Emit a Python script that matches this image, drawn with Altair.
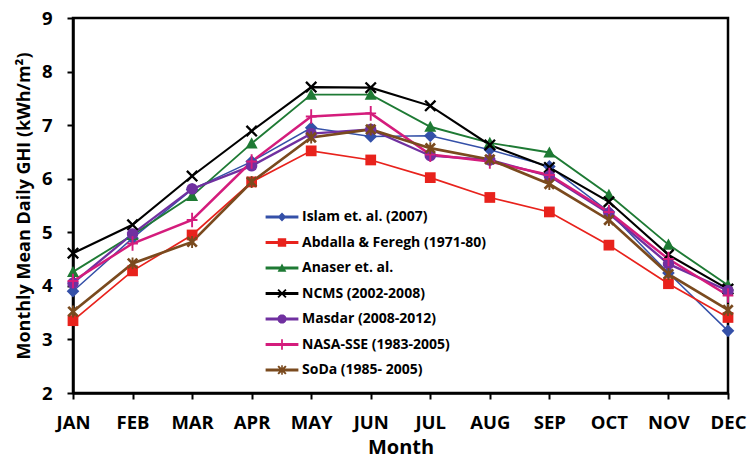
import math
import altair as alt
import pandas as pd

months = ["JAN", "FEB", "MAR", "APR", "MAY", "JUN", "JUL", "AUG", "SEP", "OCT", "NOV", "DEC"]
series = [
    "Islam et. al. (2007)",
    "Abdalla & Feregh (1971-80)",
    "Anaser et. al.",
    "NCMS (2002-2008)",
    "Masdar (2008-2012)",
    "NASA-SSE (1983-2005)",
    "SoDa (1985- 2005)",
]
islam = [3.90, 4.89, 5.80, 6.32, 6.95, 6.79, 6.80, 6.54, 6.23, 5.38, 4.24, 3.16]
abdalla = [3.35, 4.28, 4.95, 5.94, 6.52, 6.35, 6.02, 5.65, 5.38, 4.76, 4.04, 3.41]
anaser = [4.26, 4.95, 5.68, 6.66, 7.57, 7.57, 6.97, 6.67, 6.49, 5.70, 4.77, 4.01]
ncms = [4.61, 5.14, 6.05, 6.89, 7.71, 7.70, 7.36, 6.63, 6.21, 5.57, 4.58, 3.94]
masdar = [4.05, 4.97, 5.81, 6.24, 6.84, 6.92, 6.43, 6.35, 6.05, 5.35, 4.41, 3.91]
nasa = [4.09, 4.79, 5.23, 6.32, 7.16, 7.22, 6.45, 6.32, 6.07, 5.38, 4.50, 3.82]
soda = [3.52, 4.42, 4.82, 5.94, 6.77, 6.92, 6.57, 6.36, 5.90, 5.23, 4.22, 3.55]
values = [islam, abdalla, anaser, ncms, masdar, nasa, soda]

colors = ["#3450A8", "#E8221C", "#1E7A34", "#000000", "#7030A0", "#D41C7C", "#7A4A1E"]
widths = [1.5, 2.7, 2.7, 2.7, 2.7, 2.7, 2.7]

rows = []
for s, vals in zip(series, values):
    for m, v in zip(months, vals):
        rows.append({"series": s, "month": m, "ghi": v})
df = pd.DataFrame(rows)


# ---- marker geometry (unit coordinates, all polygons with the same winding) ----
def poly(pts):
    return "M" + "L".join(f"{x:.3f},{y:.3f}" for x, y in pts) + "Z"


def rect(x0, y0, x1, y1):
    return poly([(x0, y0), (x1, y0), (x1, y1), (x0, y1)])


def diamond(r):
    return poly([(0, -r), (r, 0), (0, r), (-r, 0)])


def square(r):
    return rect(-r, -r, r, r)


def triangle(r):
    return poly([(0, -r), (r, 0.85 * r), (-r, 0.85 * r)])


def xmark(e, t):
    a = poly([(-e + t, -e), (e, e - t), (e - t, e), (-e, -e + t)])
    b = poly([(e - t, -e), (e, -e + t), (-e + t, e), (-e, e - t)])
    return a + b


def circle(r):
    n = 20
    return poly([(r * math.cos(2 * math.pi * i / n), r * math.sin(2 * math.pi * i / n)) for i in range(n)])


def plus(v, h, a):
    return rect(-a, -v, a, v) + rect(-h, -a, h, a)


def star(e, t, a):
    return xmark(e, t) + rect(-a, -e * 1.05, a, e * 1.05)


marker_paths = [
    diamond(1.0),
    square(0.85),
    triangle(0.95),
    xmark(0.95, 0.26),
    circle(0.9),
    plus(1.15, 0.85, 0.15),
    star(0.9, 0.3, 0.15),
]

line_seg = rect(-4.1, -0.36, 4.1, 0.36)
legend_paths = [
    line_seg + diamond(1.1),
    line_seg + square(1.05),
    line_seg + triangle(1.1),
    line_seg + xmark(1.15, 0.33),
    line_seg + circle(1.15),
    line_seg + plus(1.3, 1.0, 0.22),
    line_seg + star(1.15, 0.36, 0.2),
]

FONT = "Open Sans"

x_enc = alt.X(
    "month:N",
    sort=months,
    scale=alt.Scale(type="point", domain=months, padding=0),
    axis=alt.Axis(title="Month", labelAngle=0, labelPadding=14, titlePadding=6),
)
y_enc = alt.Y(
    "ghi:Q",
    scale=alt.Scale(domain=[2, 9], nice=False, zero=False),
    axis=alt.Axis(
        title="Monthly Mean Daily GHI (kWh/m²)",
        values=[2, 3, 4, 5, 6, 7, 8, 9],
        format="d",
        labelPadding=15,
        titlePadding=8,
    ),
)

color_scale = alt.Scale(domain=series, range=colors)

lines = alt.Chart(df).mark_line().encode(
    x=x_enc,
    y=y_enc,
    color=alt.Color("series:N", scale=color_scale, legend=None),
    strokeWidth=alt.StrokeWidth("series:N", scale=alt.Scale(domain=series, range=widths), legend=None),
    detail="series:N",
)

points = alt.Chart(df).mark_point(filled=True, size=160, opacity=1).encode(
    x=x_enc,
    y=y_enc,
    color=alt.Color("series:N", scale=color_scale, legend=None),
    shape=alt.Shape("series:N", scale=alt.Scale(domain=series, range=marker_paths), legend=None),
)

leg = alt.Legend(
    title=None,
    orient="none",
    legendX=202,
    legendY=192,
    symbolSize=64,
    symbolStrokeWidth=0,
    labelFont=FONT,
    labelFontSize=14,
    labelFontWeight="bold",
    labelColor="#000000",
    labelOffset=13,
    rowPadding=11.5,
    padding=0,
    labelLimit=300,
)

legend_layer = (
    alt.Chart(df)
    .transform_filter("false")
    .mark_point(filled=True, size=64, opacity=1)
    .encode(
        color=alt.Color("series:N", scale=color_scale, legend=leg),
        shape=alt.Shape("series:N", scale=alt.Scale(domain=series, range=legend_paths), legend=leg),
    )
)

chart = (
    alt.layer(lines, points, legend_layer)
    .resolve_scale(color="independent", shape="independent")
    .properties(
        width=655,
        height=375,
        autosize=alt.AutoSizeParams(type="none"),
        padding={"left": 73, "top": 18, "right": 20, "bottom": 66},
        background="white",
    )
    .configure_view(stroke="#000000", strokeWidth=2.5)
    .configure_axis(
        grid=False,
        domainColor="#000000",
        domainWidth=2.5,
        tickColor="#000000",
        tickWidth=2,
        tickSize=6,
        labelFont=FONT,
        labelFontSize=18.5,
        labelFontWeight="bold",
        labelColor="#000000",
        titleFont=FONT,
        titleFontWeight="bold",
        titleColor="#000000",
    )
    .configure_axisX(titleFontSize=20)
    .configure_axisY(titleFontSize=18)
)

chart.save("out.html", embed_options={"renderer": "svg", "actions": False})
